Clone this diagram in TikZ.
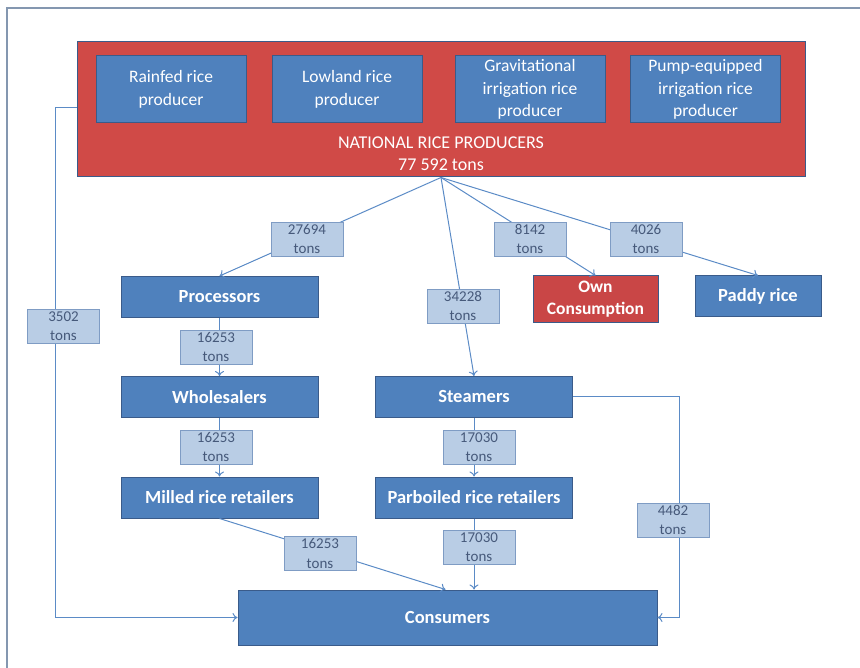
\documentclass[tikz,border=0pt]{standalone}
\usepackage{fontspec}
\setmainfont{Carlito}
\usetikzlibrary{arrows.meta}
\definecolor{boxblue}{HTML}{4F81BD}
\definecolor{boxedge}{HTML}{3A5B8A}
\definecolor{boxred}{HTML}{D04A47}
\definecolor{ownred}{HTML}{C94646}
\definecolor{tagfill}{HTML}{B9CDE5}
\definecolor{tagedge}{HTML}{7F9CC4}
\definecolor{tagtext}{HTML}{46597A}
\definecolor{flow}{HTML}{5B8BC6}
\definecolor{frameline}{HTML}{8497B0}
\tikzset{
  stage/.style={draw=boxedge, line width=1pt, fill=boxblue, text=white,
    font=\fontsize{18.5}{22}\selectfont\bfseries, minimum width=197pt, minimum height=41pt,
    inner sep=0pt, align=center},
  producer/.style={draw=boxedge, line width=1pt, fill=boxblue, text=white,
    font=\fontsize{17.5}{22.5}\selectfont, minimum width=150pt, minimum height=67pt,
    inner sep=0pt, align=center},
  tag/.style={draw=tagedge, line width=0.8pt, fill=tagfill, text=tagtext,
    font=\fontsize{15}{19.5}\selectfont, minimum width=72pt, minimum height=34pt,
    inner sep=0pt, align=center},
  flowline/.style={draw=flow, line width=1pt, -{To[length=5pt,width=9pt]}},
}
\begin{document}
\begin{tikzpicture}[x=1pt,y=-1pt]
\useasboundingbox (0,0) rectangle (860,668);
% outer frame (open at right and bottom)
\draw[frameline, line width=1.2pt] (7,668) -- (7,8) -- (860,8);

% national producers block
\node[draw=boxedge, line width=1pt, fill=boxred, minimum width=728pt,
  minimum height=135pt, inner sep=0pt] (nat) at (441,109.5) {};
\node[text=white, font=\fontsize{18}{22}\selectfont, align=center]
  (natlabel) at (441,154) {NATIONAL RICE PRODUCERS\\77 592 tons};
\node[producer] (rainfed) at (171,89.5) {Rainfed rice\\producer};
\node[producer] (lowland) at (347,89.5) {Lowland rice\\producer};
\node[producer] (grav) at (530,89.5) {Gravitational\\irrigation rice\\producer};
\node[producer] (pump) at (705.5,89.5) {Pump-equipped\\irrigation rice\\producer};

% downstream actors
\node[stage] (proc) at (219.5,297) {Processors};
\node[stage, fill=ownred, minimum width=125pt, minimum height=47pt,
  font=\fontsize{17.5}{22}\selectfont\bfseries]
  (own) at (595.5,299.5) {Own\\Consumption};
\node[stage, minimum width=126pt] (paddy) at (758,296.5) {Paddy rice};
\node[stage] (whole) at (219.5,397) {Wholesalers};
\node[stage] (steam) at (474,397) {Steamers};
\node[stage] (milled) at (219.5,497.5) {Milled rice retailers};
\node[stage] (parb) at (474,497.5) {Parboiled rice retailers};
\node[stage, minimum width=419pt, minimum height=55pt] (cons) at (447.5,617.5) {Consumers};

% flows
\coordinate (apex) at (nat.south);
\draw[flowline] (apex) -- (proc.north);
\draw[flowline] (apex) -- (steam.north);
\draw[flowline] (apex) -- (own.north);
\draw[flowline] (apex) -- (paddy.north);
\draw[flowline] (proc) -- (whole);
\draw[flowline] (whole) -- (milled);
\draw[flowline] (steam) -- (parb);
\draw[flowline] (milled.south) -- ([xshift=-2pt]cons.north);
\draw[flowline] (parb) -- (parb.south |- cons.north);
\coordinate (leftbend) at (55,108);
\draw[flowline] (nat.west |- leftbend) -- (leftbend) |- (cons.west);
\coordinate (rightbend) at (679,397);
\draw[flowline] (steam.east) -- (rightbend) |- (cons.east);

% flow quantities
\node[tag] (t1) at (307,239) {27694\\tons};
\node[tag] (t2) at (530,239) {8142\\tons};
\node[tag] (t3) at (646,239) {4026\\tons};
\node[tag] (t4) at (463,306) {34228\\tons};
\node[tag] (t5) at (63.5,326) {3502\\tons};
\node[tag] (t6) at (216,347) {16253\\tons};
\node[tag] (t7) at (216,447) {16253\\tons};
\node[tag] (t8) at (479,447) {17030\\tons};
\node[tag] (t9) at (320,553.5) {16253\\tons};
\node[tag] (t10) at (479,547) {17030\\tons};
\node[tag] (t11) at (673,520) {4482\\tons};
\end{tikzpicture}
\end{document}
